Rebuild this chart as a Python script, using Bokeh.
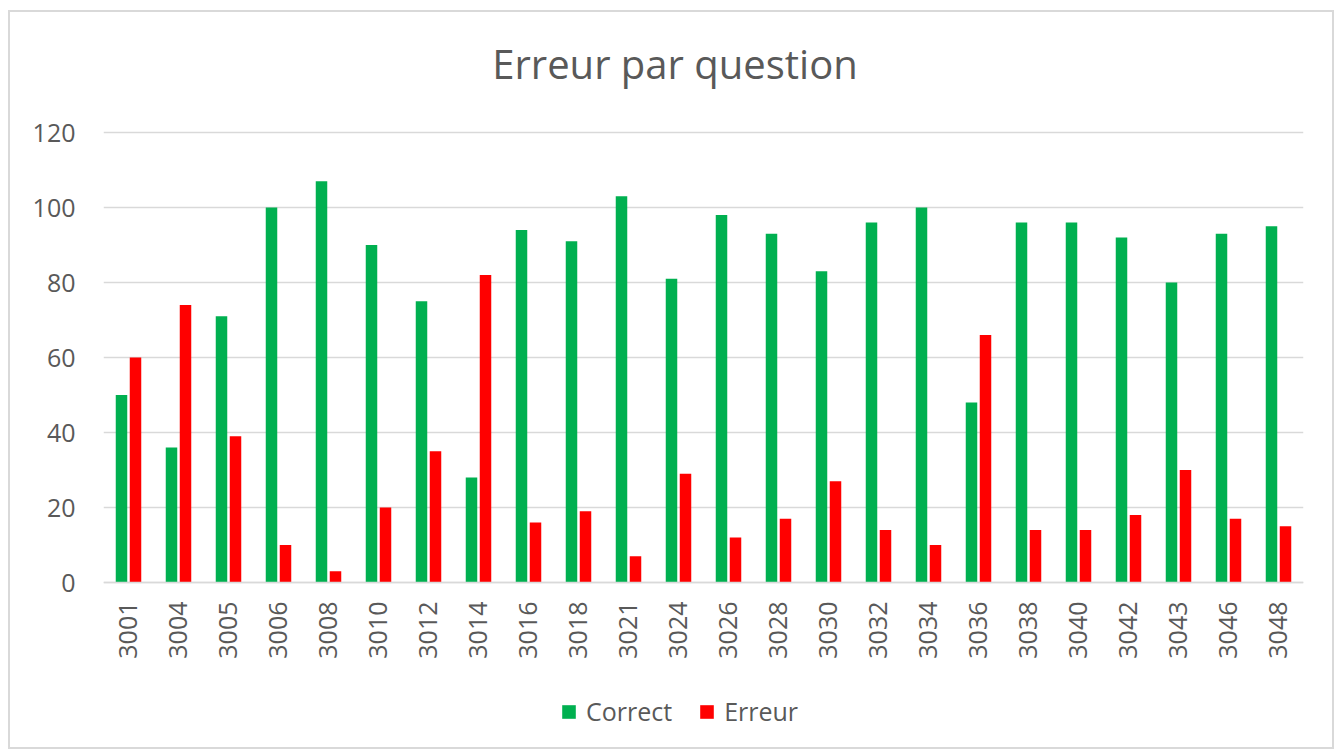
from bokeh.plotting import figure
from bokeh.models import ColumnDataSource, FactorRange, Range1d, Label, Legend, LegendItem, FixedTicker
from bokeh.transform import dodge
from bokeh.embed import file_html
from bokeh.resources import INLINE
import math

questions = ["3001", "3004", "3005", "3006", "3008", "3010", "3012", "3014", "3016", "3018",
             "3021", "3024", "3026", "3028", "3030", "3032", "3034", "3036", "3038", "3040",
             "3042", "3043", "3046", "3048"]
correct = [50, 36, 71, 100, 107, 90, 75, 28, 94, 91, 103, 81, 98, 93, 83, 96, 100, 48, 96, 96, 92, 80, 93, 95]
erreur = [60, 74, 39, 10, 3, 20, 35, 82, 16, 19, 7, 29, 12, 17, 27, 14, 10, 66, 14, 14, 18, 30, 17, 15]
y_ticks = [0, 20, 40, 60, 80, 100, 120]

FONT = "Open Sans"
GREY = "#595959"
LINE = "#d9d9d9"

source = ColumnDataSource(dict(q=questions, correct=correct, erreur=erreur))

# frame spans the whole chart area; the value axis keeps 3.75 px per unit
p = figure(x_range=FactorRange(*questions, range_padding=0),
           y_range=Range1d(-42.933, 149.8667),
           width=1326, height=739, output_backend="svg", toolbar_location=None,
           min_border_left=93, min_border_right=33, min_border_top=8, min_border_bottom=8)
p.styles = {"border": "2px solid #d9d9d9"}
p.margin = (10, 0, 0, 8)
p.title.visible = False
p.outline_line_color = None
p.background_fill_color = "white"
p.border_fill_color = "white"

r1 = p.vbar(x=dodge("q", -0.14, range=p.x_range), top="correct", width=0.23, source=source,
            fill_color="#00B050", line_color=None)
r2 = p.vbar(x=dodge("q", 0.14, range=p.x_range), top="erreur", width=0.23, source=source,
            fill_color="#FF0000", line_color=None)

p.xgrid.grid_line_color = None
p.ygrid.grid_line_color = LINE
p.ygrid.grid_line_width = 1.5
p.yaxis.ticker = FixedTicker(ticks=y_ticks)

p.yaxis.axis_line_color = None
p.yaxis.major_tick_line_color = None
p.yaxis.minor_tick_line_color = None
p.yaxis.major_tick_out = 0
p.yaxis.major_label_standoff = 28
p.xaxis.fixed_location = 0
p.xaxis.axis_line_color = LINE
p.xaxis.axis_line_width = 1.5
p.xaxis.major_tick_line_color = None
p.xaxis.major_tick_out = 0
p.xaxis.major_label_standoff = 19
p.xaxis.major_label_orientation = math.pi / 2
for ax in (p.xaxis, p.yaxis):
    ax.major_label_text_font = FONT
    ax.major_label_text_font_size = "25px"
    ax.major_label_text_color = GREY

title = Label(x=11.43, y=138.4, text="Erreur par question", text_align="center",
              text_baseline="alphabetic", text_font=FONT, text_font_size="40px", text_color=GREY)
p.add_layout(title)

legend = Legend(items=[LegendItem(label="Correct", renderers=[r1]),
                       LegendItem(label="Erreur", renderers=[r2])],
                orientation="horizontal", location=(457, 15),
                glyph_width=17, glyph_height=17, label_standoff=9, spacing=26,
                padding=0, margin=0, border_line_color=None, background_fill_alpha=0,
                label_text_font=FONT, label_text_font_size="25px", label_text_color=GREY)
p.add_layout(legend, "center")

open("out.html", "w").write(file_html(p, INLINE))
